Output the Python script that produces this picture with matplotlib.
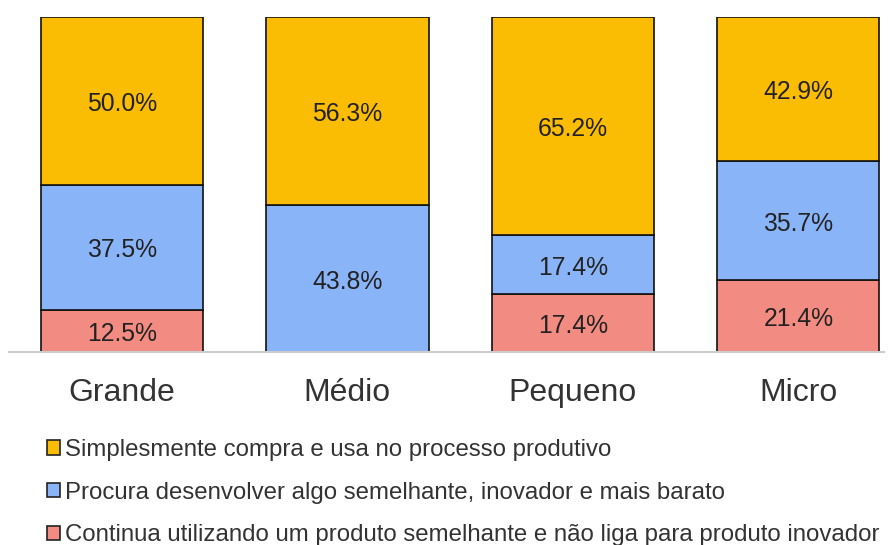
import matplotlib
matplotlib.use("Agg")
import matplotlib.pyplot as plt
from matplotlib.patches import Patch

plt.rcParams['font.family'] = ['Liberation Sans', 'DejaVu Sans']

categories = ["Grande", "Médio", "Pequeno", "Micro"]
series_names = [
    "Simplesmente compra e usa no processo produtivo",
    "Procura desenvolver algo semelhante, inovador e mais barato",
    "Continua utilizando um produto semelhante e não liga para produto inovador",
]
continua = [12.5, 0.0, 17.4, 21.4]
procura = [37.5, 43.8, 17.4, 35.7]
simplesmente = [50.0, 56.3, 65.2, 42.9]

colors = {"simplesmente": "#FBBC04", "procura": "#8AB4F8", "continua": "#F28B82"}

fig = plt.figure(figsize=(8.96, 5.45), dpi=100)
W, H = 896, 545
ax = fig.add_axes([9.25 / W, (H - 352) / H, (884 - 9.25) / W, (352 - 17) / H])

x = list(range(len(categories)))
width = 0.72
stack = [
    ("continua", continua),
    ("procura", procura),
    ("simplesmente", simplesmente),
]
totals = [sum(v) for v in zip(continua, procura, simplesmente)]
bottom = [0.0] * len(categories)
for key, vals in stack:
    shares = [v / t * 100 for v, t in zip(vals, totals)]
    ax.bar(x, shares, width, bottom=bottom, color=colors[key],
           edgecolor="#111111", linewidth=1.2, zorder=2)
    for xi, b, s, v in zip(x, bottom, shares, vals):
        if v > 0:
            ax.annotate(f"{v:.1f}%", (xi, b + s / 2), xytext=(0, -2.2),
                        textcoords="offset points", ha="center", va="center",
                        fontsize=17.8, color="#222222", zorder=3)
    bottom = [b + s for b, s in zip(bottom, shares)]

ax.set_xlim(-0.5, 3.38)
ax.set_ylim(0, 100)
for side in ["top", "right", "left"]:
    ax.spines[side].set_visible(False)
ax.spines["bottom"].set_color("#cccccc")
ax.spines["bottom"].set_linewidth(1.5)
ax.set_yticks([])
ax.set_xticks(x)
ax.set_xticklabels(categories, fontsize=23, color="#333333")
ax.tick_params(axis="x", length=0, pad=19)

handles = [
    Patch(facecolor=colors["simplesmente"], edgecolor="#222222", linewidth=1.2),
    Patch(facecolor=colors["procura"], edgecolor="#222222", linewidth=1.2),
    Patch(facecolor=colors["continua"], edgecolor="#222222", linewidth=1.2),
]
fig.legend(handles, series_names, loc="upper left",
           bbox_to_anchor=(47 / W, (H - 439) / H), frameon=False,
           fontsize=17.3, handlelength=0.55, handleheight=0.55,
           handletextpad=0.2, labelspacing=0.86, labelcolor="#333333",
           borderaxespad=0, borderpad=0)

fig.savefig("out.png", dpi=100, facecolor="white")
